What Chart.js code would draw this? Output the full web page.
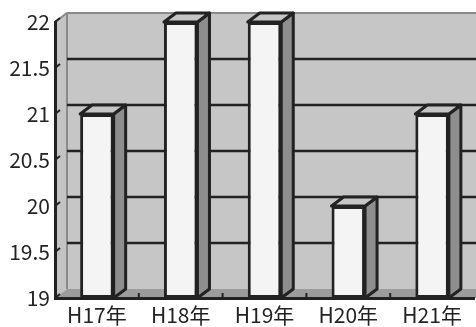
<!DOCTYPE html>
<html>
<head>
<meta charset="utf-8">
<script src="https://cdn.jsdelivr.net/npm/chart.js@4/dist/chart.umd.min.js"></script>
<style>
  html, body { margin: 0; padding: 0; background: #fff; overflow: hidden; }
  #wrap { width: 476px; height: 327px; }
</style>
</head>
<body>
<div id="wrap"><canvas id="grafico"></canvas></div>
<script>
const categorias = ['H17年', 'H18年', 'H19年', 'H20年', 'H21年'];
const valores = [21, 22, 22, 20, 21];
const eixoMin = 19;
const eixoMax = 22;
const passo = 0.5;

// depth of the fake 3D box
const DX = 12, DY = 9;

const caixa3d = {
    id: 'caixa3d',
    beforeDraw(chart) {
        const ctx = chart.ctx;
        const a = chart.chartArea;
        const y = chart.scales.y;
        const W = chart.width;
        ctx.save();

        // back wall
        ctx.fillStyle = '#c6c6c6';
        ctx.fillRect(a.left + DX, a.top - DY, W, a.bottom - a.top);

        // left side wall
        ctx.fillStyle = '#c3c3c3';
        ctx.beginPath();
        ctx.moveTo(a.left, a.top);
        ctx.lineTo(a.left + DX, a.top - DY);
        ctx.lineTo(a.left + DX, a.bottom - DY);
        ctx.lineTo(a.left, a.bottom);
        ctx.closePath();
        ctx.fill();

        // floor
        ctx.fillStyle = '#9c9c9c';
        ctx.beginPath();
        ctx.moveTo(a.left, a.bottom);
        ctx.lineTo(a.left + DX, a.bottom - DY);
        ctx.lineTo(W + DX, a.bottom - DY);
        ctx.lineTo(W, a.bottom);
        ctx.closePath();
        ctx.fill();

        // wall edges
        ctx.strokeStyle = '#8a8a8a';
        ctx.lineWidth = 2;
        ctx.beginPath();
        ctx.moveTo(a.left, a.top);
        ctx.lineTo(a.left + DX, a.top - DY);
        ctx.lineTo(W, a.top - DY);
        ctx.moveTo(a.left + DX, a.top - DY);
        ctx.lineTo(a.left + DX, a.bottom - DY);
        ctx.stroke();

        // gridlines on back wall + little ticks on side wall
        ctx.strokeStyle = '#222';
        for (let v = eixoMin + passo; v < eixoMax; v += passo) {
            const py = y.getPixelForValue(v);
            ctx.lineWidth = 2.5;
            ctx.beginPath();
            ctx.moveTo(a.left + DX, py - DY);
            ctx.lineTo(W, py - DY);
            ctx.stroke();
        }
        ctx.lineWidth = 2;
        for (let v = eixoMin; v <= eixoMax; v += passo) {
            const py = y.getPixelForValue(v);
            ctx.beginPath();
            ctx.moveTo(a.left, py);
            ctx.lineTo(a.left + 5, py - 4);
            ctx.stroke();
        }

        // small ticks between categories on the floor
        const larg = (a.right - a.left) / categorias.length;
        for (let i = 1; i < categorias.length; i++) {
            const px = a.left + larg * i;
            ctx.beginPath();
            ctx.moveTo(px, a.bottom);
            ctx.lineTo(px, a.bottom - 5);
            ctx.stroke();
        }
        ctx.restore();
    },
    afterDatasetsDraw(chart) {
        const ctx = chart.ctx;
        const meta = chart.getDatasetMeta(0);
        ctx.save();
        ctx.strokeStyle = '#222';
        ctx.lineWidth = 3;
        ctx.lineJoin = 'round';
        meta.data.forEach(bar => {
            const p = bar.getProps(['x', 'y', 'base', 'width'], true);
            const l = p.x - p.width / 2, r = p.x + p.width / 2;
            // side face
            ctx.fillStyle = '#8e8e8e';
            ctx.beginPath();
            ctx.moveTo(r, p.y);
            ctx.lineTo(r + DX, p.y - DY);
            ctx.lineTo(r + DX, p.base - DY);
            ctx.lineTo(r, p.base);
            ctx.closePath();
            ctx.fill();
            ctx.stroke();
            // top face
            ctx.fillStyle = '#c6c6c6';
            ctx.beginPath();
            ctx.moveTo(l, p.y);
            ctx.lineTo(l + DX, p.y - DY);
            ctx.lineTo(r + DX, p.y - DY);
            ctx.lineTo(r, p.y);
            ctx.closePath();
            ctx.fill();
            ctx.stroke();
        });
        ctx.restore();
    }
};

const fonte = { family: 'Noto Sans CJK JP', size: 21, lineHeight: 1 };

new Chart(document.getElementById('grafico').getContext('2d'), {
    type: 'bar',
    data: {
        labels: categorias,
        datasets: [{
            data: valores,
            base: eixoMin,
            backgroundColor: '#f4f4f4',
            borderColor: '#222',
            borderWidth: 3,
            borderSkipped: false,
            barPercentage: 0.4,
            categoryPercentage: 1
        }]
    },
    options: {
        responsive: true,
        maintainAspectRatio: false,
        animation: false,
        layout: { padding: { top: 22, right: 2, left: 0, bottom: 0 } },
        plugins: { legend: { display: false }, tooltip: { enabled: false } },
        scales: {
            x: {
                grid: { display: false, drawTicks: false },
                border: { display: true, color: '#222', width: 3 },
                ticks: { color: '#222', font: fonte, padding: 7, maxRotation: 0, autoSkip: false },
                afterFit(s) { s.height = 29; }
            },
            y: {
                min: eixoMin,
                max: eixoMax,
                grid: { display: false, drawTicks: false },
                border: { display: true, color: '#222', width: 3 },
                ticks: { stepSize: passo, color: '#222', font: fonte, padding: 5, callback: v => String(v) },
                afterFit(s) { s.width = 55; }
            }
        }
    },
    plugins: [caixa3d]
});
</script>
</body>
</html>
